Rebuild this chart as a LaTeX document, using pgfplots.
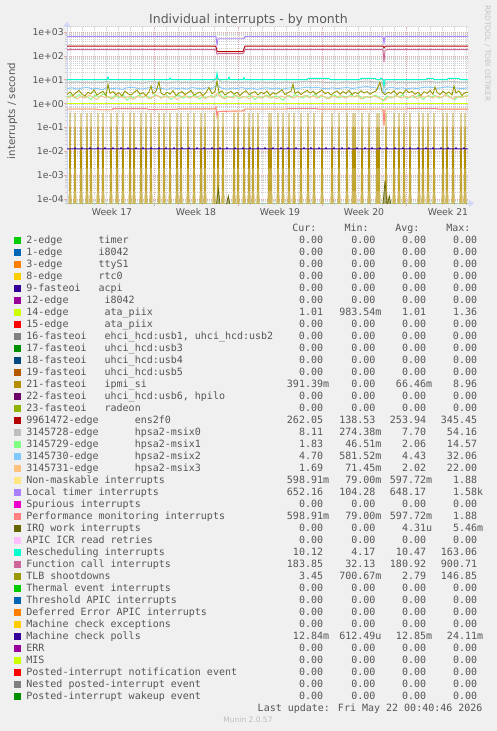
\documentclass[border=0pt]{standalone}
\usepackage{fontspec}
\usepackage{pgfplots}
\pgfplotsset{compat=1.18}
\usetikzlibrary{arrows.meta}
\setmainfont{DejaVu Sans}
\newfontfamily\monof{DejaVu Sans Mono}
\newfontfamily\sansf{DejaVu Sans}
\definecolor{cBack}{HTML}{F0F0F0}
\definecolor{cFont}{HTML}{555555}
\definecolor{cTitle}{HTML}{5A5A5A}
\definecolor{cRrd}{HTML}{C4C4C4}
\definecolor{cMunin}{HTML}{BDBDBD}
\definecolor{cAxis}{HTML}{CFD6F8}
\definecolor{cXax}{HTML}{A3CBAD}
\definecolor{cGrid}{HTML}{D0D0D0}
\definecolor{cMgrid}{HTML}{E0AEAE}
\definecolor{colA}{HTML}{00CC00}
\definecolor{colB}{HTML}{0066B3}
\definecolor{colC}{HTML}{FF8000}
\definecolor{colD}{HTML}{FFCC00}
\definecolor{colE}{HTML}{330099}
\definecolor{colF}{HTML}{990099}
\definecolor{colG}{HTML}{CCFF00}
\definecolor{colH}{HTML}{FF0000}
\definecolor{colI}{HTML}{808080}
\definecolor{colJ}{HTML}{008F00}
\definecolor{colK}{HTML}{00487D}
\definecolor{colL}{HTML}{B35A00}
\definecolor{colM}{HTML}{B38F00}
\definecolor{colN}{HTML}{6B006B}
\definecolor{colO}{HTML}{8FB300}
\definecolor{colP}{HTML}{B30000}
\definecolor{colQ}{HTML}{BEBEBE}
\definecolor{colR}{HTML}{80FF80}
\definecolor{colS}{HTML}{80C9FF}
\definecolor{colT}{HTML}{FFC080}
\definecolor{colU}{HTML}{FFE680}
\definecolor{colV}{HTML}{AA80FF}
\definecolor{colW}{HTML}{EE00CC}
\definecolor{colX}{HTML}{FF8080}
\definecolor{colY}{HTML}{666600}
\definecolor{colZ}{HTML}{FFBFFF}
\definecolor{colAA}{HTML}{00FFCC}
\definecolor{colAB}{HTML}{CC6699}
\definecolor{colAC}{HTML}{999900}
\newlength\cw
\newcommand\legfont{\monof\fontsize{10pt}{12pt}\selectfont}
\newcommand\E[9]{\rlap{#1}\makebox[296.7pt][r]{#2}\makebox[\cw][l]{#3}\makebox[46.28pt][r]{#4}\makebox[\cw][l]{#5}\makebox[44.68pt][r]{#6}\makebox[\cw][l]{#7}\makebox[44.98pt][r]{#8}\makebox[\cw][l]{#9}}
\newcommand\EZ[1]{\E{#1}{0.00}{}{0.00}{}{0.00}{}{0.00}{}}
\newcommand\lab[3]{\makebox[#2\cw][l]{#1}#3}
\newcommand\SQ[1]{\addlegendimage{legend image code/.code={\fill[#1] (0pt,-3pt) rectangle (6pt,3pt);}}}
\begin{document}
\settowidth\cw{\legfont 0}%
\begin{tikzpicture}
\useasboundingbox (0,0) rectangle (497pt,731pt);
\fill[cBack] (0,0) rectangle (497pt,731pt);
\node[anchor=base, font=\sansf\fontsize{12.5pt}{15pt}\selectfont, text=cTitle] at (248.4pt,707.7pt) {Individual interrupts - by month};
\node[rotate=90, anchor=base, font=\sansf\fontsize{10.2pt}{12pt}\selectfont, text=cFont] at (15pt,620pt) {interrupts / second};
\node[rotate=-90, anchor=base, font=\sansf\fontsize{7.5pt}{9pt}\selectfont, text=cRrd] at (485pt,677.5pt) {RRDTOOL / TOBI OETIKER};
\node[anchor=base east, font=\legfont, text=cFont, inner sep=0pt] at (482.7pt,19.8pt) {Last update: Fri May 22 00:40:46 2026};
\node[anchor=base, font=\sansf\fontsize{7.5pt}{9pt}\selectfont, text=cMunin] at (248pt,8.3pt) {Munin 2.0.57};
\begin{axis}[
  at={(67pt,527.7pt)}, anchor=south west,
  scale only axis, width=401pt, height=176.6pt,
  xmin=0, xmax=401, ymode=log, ymin=6.8e-5, ymax=1667,
  axis background/.style={fill=white},
  axis lines=left,
  x axis line style={draw=cXax, line width=1pt, -{Triangle[width=7pt,length=5pt,color=cAxis]}, shorten >=-6pt},
  y axis line style={draw=cAxis, line width=1pt, -{Triangle[width=7pt,length=5pt,color=cAxis]}, shorten >=-5pt},
  xtick={87,171,255,339}, xticklabels={,,,},
  minor xtick={3,15,...,399},
  extra x ticks={45,129,213,297,381},
  extra x tick labels={Week 17,Week 18,Week 19,Week 20,Week 21},
  extra x tick style={grid=none, major tick length=0pt, xticklabel style={anchor=base, yshift=-12.2pt}},
  xticklabel style={font=\sansf\fontsize{9.3pt}{11pt}\selectfont, text=cFont},
  ytick={1e-4,1e-3,1e-2,1e-1,1,10,100,1000},
  yticklabels={1e-04,1e-03,1e-02,1e-01,1e+00,1e+01,1e+02,1e+03},
  minor ytick={7e-5,8e-5,9e-5,2e-4,3e-4,4e-4,5e-4,6e-4,7e-4,8e-4,9e-4,2e-3,3e-3,4e-3,5e-3,6e-3,7e-3,8e-3,9e-3,0.02,0.03,0.04,0.05,0.06,0.07,0.08,0.09,0.2,0.3,0.4,0.5,0.6,0.7,0.8,0.9,2,3,4,5,6,7,8,9,20,30,40,50,60,70,80,90,200,300,400,500,600,700,800,900},
  yticklabel style={font=\sansf\fontsize{9.3pt}{11pt}\selectfont, text=cFont, anchor=east, inner sep=0pt},
  grid=both,
  major grid style={draw=cMgrid, line width=0.7pt, dash pattern=on 1pt off 1pt},
  minor grid style={draw=cGrid, line width=0.7pt, dash pattern=on 1pt off 1pt},
  tick align=outside, major tick length=3pt, minor tick length=2pt,
  major tick style={draw=cMgrid, line width=0.8pt},
  minor tick style={draw=cGrid, line width=0.8pt},
  legend cell align=left,
  legend style={at={(-0.13217,-0.1042)}, anchor=north west, draw=none, fill=none,
    inner sep=0pt, outer sep=0pt, row sep=0pt, column sep=6pt,
    nodes={inner sep=0pt, text height=9.65pt, text depth=2.35pt, anchor=west},
    font=\legfont, text=cFont},
]
\draw[cGrid, line width=0.7pt, dash pattern=on 1pt off 1pt] (rel axis cs:0,1) -- (rel axis cs:1,1) -- (rel axis cs:1,0);
% 14-edge ata_piix
\addplot[forget plot, colG, line width=0.9pt] coordinates {(0,1.01)(401,1.01)};
% 21-fasteoi ipmi_si
\addplot[forget plot, colM, line width=0.7pt, fill=colM!45!white] coordinates {
(2,6e-5)(3,0.4)(4,6e-5)(7,6e-5)(8,0.4)(9,6e-5)(13,6e-5)(14,0.4)(15,6e-5)(19,6e-5)(20,0.4)(21,6e-5)
(23,6e-5)(24,0.4)(25,6e-5)(30,6e-5)(31,0.4)(32,6e-5)(35,6e-5)(36,0.4)(37,6e-5)(43,6e-5)(44,0.4)(45,6e-5)
(49,6e-5)(50,0.4)(51,6e-5)(55,6e-5)(56,0.4)(57,6e-5)(62,6e-5)(63,0.4)(64,6e-5)(66,6e-5)(67,0.4)(68,6e-5)
(73,6e-5)(74,0.4)(75,6e-5)(78,6e-5)(79,0.4)(80,6e-5)(83,6e-5)(84,0.4)(85,6e-5)(91,6e-5)(92,0.4)(93,6e-5)
(96,6e-5)(97,0.4)(98,6e-5)(102,6e-5)(103,0.4)(104,6e-5)(109,6e-5)(110,0.4)(111,6e-5)(113,6e-5)(114,0.4)(115,6e-5)
(120,6e-5)(121,0.4)(122,6e-5)(126,6e-5)(127,0.4)(128,6e-5)(133,6e-5)(134,0.4)(135,6e-5)(137,6e-5)(138,0.4)(139,6e-5)
(146,6e-5)(147,0.4)(148,6e-5)(150,6e-5)(151,0.4)(152,6e-5)(155,6e-5)(156,0.4)(157,6e-5)(166,6e-5)(167,0.4)(168,6e-5)
(170,6e-5)(171,0.4)(172,6e-5)(176,6e-5)(177,0.4)(178,6e-5)(181,6e-5)(182,0.4)(183,6e-5)(185,6e-5)(186,0.4)(187,6e-5)
(190,6e-5)(191,0.4)(192,6e-5)(201,6e-5)(202,0.4)(203,6e-5)(204,0.4)(205,6e-5)(210,6e-5)(211,0.4)(212,6e-5)
(215,6e-5)(216,0.4)(217,6e-5)(221,6e-5)(222,0.4)(223,6e-5)(226,6e-5)(227,0.4)(228,6e-5)(233,6e-5)(234,0.4)(235,6e-5)
(240,6e-5)(241,0.4)(242,6e-5)(246,6e-5)(247,0.4)(248,6e-5)(254,6e-5)(255,0.4)(256,6e-5)(264,6e-5)(265,0.4)(266,6e-5)
(271,6e-5)(272,0.4)(273,6e-5)(279,6e-5)(280,0.4)(281,6e-5)(285,6e-5)(286,0.4)(287,6e-5)(288,0.4)(289,6e-5)
(294,6e-5)(295,0.4)(296,6e-5)(301,6e-5)(302,0.4)(303,6e-5)(309,6e-5)(310,0.4)(311,6e-5)(312,0.4)(313,6e-5)
(318,6e-5)(319,0.4)(320,6e-5)(326,6e-5)(327,0.4)(328,6e-5)(331,6e-5)(332,0.4)(333,6e-5)(336,6e-5)(337,0.4)(338,6e-5)
(342,6e-5)(343,0.4)(344,6e-5)(351,6e-5)(352,0.4)(353,6e-5)(355,6e-5)(356,0.4)(357,6e-5)(360,6e-5)(361,0.4)(362,6e-5)
(366,6e-5)(367,0.4)(368,6e-5)(375,6e-5)(376,0.4)(377,6e-5)(379,6e-5)(380,0.4)(381,6e-5)(385,6e-5)(386,0.4)(387,6e-5)
(393,6e-5)(394,0.4)(395,6e-5)(397,6e-5)(398,0.4)(399,6e-5)};
% 9961472-edge ens2f0
\addplot[forget plot, colP, line width=0.9pt] coordinates {(0,258)(148,258)(149,240)(150,165)(151,150)(176,150)(177,200)(178,258)(316,258)(317,215)(318,245)(319,258)(401,258)};
% 3145728-edge hpsa2-msix0
\addplot[forget plot, colQ, line width=0.9pt] coordinates {(0,7.8)(5,7.5)(10,8.2)(15,7.6)(20,7.9)(25,7.3)(30,8.0)(35,7.7)(40,8.6)(45,7.4)(50,7.9)(55,7.6)(60,8.1)(65,7.5)(70,7.8)(75,7.2)(80,8.0)(85,8.4)(90,7.6)(95,7.9)(100,7.3)(105,7.8)(110,8.2)(115,7.6)(120,7.9)(125,7.4)(130,8.0)(135,7.7)(140,7.5)(145,8.1)(150,12.5)(155,7.8)(160,8.3)(165,7.5)(170,7.9)(175,7.6)(180,8.2)(185,7.4)(190,7.8)(195,8.0)(200,7.5)(205,7.9)(210,7.3)(215,7.8)(220,8.1)(225,7.6)(230,7.9)(235,8.4)(240,8.8)(245,8.3)(250,8.6)(255,8.0)(260,7.6)(265,7.9)(270,7.4)(275,7.8)(280,8.2)(285,7.6)(290,8.0)(295,8.6)(300,8.9)(305,8.4)(310,8.0)(315,7.8)(317,4.5)(320,7.9)(325,8.3)(330,7.6)(335,8.0)(340,7.4)(345,7.9)(350,7.6)(355,8.2)(360,8.7)(365,8.4)(370,7.8)(375,8.1)(380,8.8)(385,8.5)(390,8.2)(395,7.9)(401,8.1)};
% 3145729-edge hpsa2-msix1
\addplot[forget plot, colR, line width=0.9pt] coordinates {(0,1.9)(4,2.2)(8,1.7)(12,2.4)(16,1.8)(20,2.0)(24,1.5)(28,2.3)(32,1.9)(36,2.6)(40,2.1)(44,1.6)(48,2.2)(52,1.8)(56,2.5)(60,1.4)(64,2.0)(68,1.7)(72,2.3)(76,1.9)(80,2.1)(84,1.6)(88,2.4)(92,2.0)(96,1.8)(100,2.2)(104,1.5)(108,2.0)(112,2.3)(116,1.7)(120,2.1)(124,1.9)(128,2.4)(132,1.6)(136,2.0)(140,1.8)(144,2.2)(148,1.9)(152,2.8)(156,1.7)(160,2.1)(164,1.8)(168,2.3)(172,1.6)(176,2.0)(180,1.9)(184,2.2)(188,1.5)(192,2.0)(196,1.8)(200,2.3)(204,1.7)(208,2.1)(212,1.9)(216,1.4)(220,2.2)(224,1.8)(228,2.4)(232,2.0)(236,1.7)(240,2.2)(244,1.9)(248,2.5)(252,1.8)(256,2.1)(260,1.6)(264,2.0)(268,2.3)(272,1.7)(276,2.1)(280,1.8)(284,2.4)(288,1.9)(292,2.2)(296,1.6)(300,2.0)(304,1.8)(308,2.3)(312,1.9)(316,1.3)(320,2.1)(324,1.7)(328,2.2)(332,1.9)(336,2.4)(340,1.6)(344,2.0)(348,1.8)(352,2.3)(356,1.5)(360,2.1)(364,1.9)(368,2.2)(372,1.7)(376,2.0)(380,2.4)(384,1.8)(388,1.5)(392,2.1)(396,1.9)(401,2.2)};
% 3145730-edge hpsa2-msix2
\addplot[forget plot, colS, line width=0.9pt] coordinates {(0,4.3)(5,4.6)(10,4.1)(15,4.5)(20,4.8)(25,4.2)(30,4.4)(35,3.9)(40,4.7)(45,4.3)(50,4.5)(55,4.0)(60,4.6)(65,4.9)(70,4.4)(75,4.1)(80,4.5)(85,4.8)(90,4.2)(95,4.4)(100,4.0)(105,4.6)(110,4.3)(115,4.5)(120,4.1)(125,4.7)(130,4.4)(135,4.2)(140,4.6)(145,4.3)(150,6.0)(155,4.4)(160,4.1)(165,4.5)(170,4.3)(175,4.7)(180,4.2)(185,4.5)(190,4.0)(195,4.4)(200,4.6)(205,4.2)(210,4.5)(215,4.1)(220,4.4)(225,4.7)(230,4.3)(235,4.6)(240,5.0)(245,4.6)(250,4.9)(255,4.4)(260,4.2)(265,4.6)(270,4.3)(275,4.5)(280,4.8)(285,4.3)(290,4.6)(295,5.0)(300,5.2)(305,4.8)(310,4.5)(315,4.4)(317,2.8)(320,4.5)(325,4.8)(330,4.3)(335,4.6)(340,4.2)(345,4.5)(350,4.3)(355,4.7)(360,5.0)(365,4.8)(370,4.4)(375,4.7)(380,5.1)(385,4.8)(390,4.5)(395,4.3)(401,4.6)};
% 3145731-edge hpsa2-msix3
\addplot[forget plot, colT, line width=0.9pt] coordinates {(0,1.9)(2,1.8)(6,2.1)(10,1.6)(14,2.0)(18,1.7)(22,2.3)(26,1.9)(30,1.5)(34,2.2)(38,1.8)(42,2.0)(46,1.6)(50,2.3)(54,1.9)(58,1.7)(62,2.1)(66,1.5)(70,2.0)(74,1.8)(78,2.2)(82,1.6)(86,1.9)(90,2.3)(94,1.7)(98,2.0)(102,1.8)(106,2.1)(110,1.5)(114,1.9)(118,2.2)(122,1.7)(126,2.0)(130,1.8)(134,2.3)(138,1.6)(142,2.0)(146,1.8)(150,2.6)(154,1.9)(158,1.6)(162,2.0)(166,1.7)(170,2.2)(174,1.8)(178,2.0)(182,1.6)(186,2.1)(190,1.9)(194,1.7)(198,2.2)(202,1.8)(206,2.0)(210,1.6)(214,2.1)(218,1.8)(222,2.3)(226,1.7)(230,2.0)(234,1.9)(238,2.2)(242,1.8)(246,2.1)(250,1.7)(254,2.3)(258,1.9)(262,1.6)(266,2.1)(270,1.8)(274,2.2)(278,1.7)(282,2.0)(286,1.9)(290,2.2)(294,1.6)(298,2.0)(302,1.8)(306,2.1)(310,1.9)(314,1.6)(318,1.4)(322,2.0)(326,1.8)(330,2.2)(334,1.7)(338,2.0)(342,1.8)(346,2.3)(350,1.6)(354,2.0)(358,1.9)(362,2.2)(366,1.7)(370,2.1)(374,1.8)(378,2.3)(382,1.9)(386,1.6)(390,2.0)(394,1.8)(398,2.1)(401,2.0)};
% Non-maskable interrupts
\addplot[forget plot, colU, line width=0.9pt] coordinates {(0,0.6)(30,0.6)(31,0.56)(45,0.56)(46,0.62)(80,0.62)(81,0.58)(110,0.58)(111,0.61)(148,0.61)(149,0.72)(150,0.3)(151,0.47)(177,0.5)(178,0.6)(220,0.6)(221,0.63)(250,0.63)(251,0.59)(316,0.6)(317,0.12)(318,0.6)(340,0.6)(341,0.63)(370,0.63)(371,0.59)(401,0.59)};
% Local timer interrupts
\addplot[forget plot, colV, line width=0.9pt] coordinates {(0,650)(149,650)(150,290)(151,520)(177,520)(178,650)(316,650)(317,340)(318,650)(401,650)};
% Performance monitoring interrupts
\addplot[forget plot, colX, line width=0.9pt] coordinates {(0,0.6)(30,0.6)(31,0.56)(45,0.56)(46,0.62)(80,0.62)(81,0.58)(110,0.58)(111,0.61)(148,0.61)(149,0.72)(150,0.3)(151,0.47)(177,0.5)(178,0.6)(220,0.6)(221,0.63)(250,0.63)(251,0.59)(316,0.6)(317,0.12)(318,0.6)(340,0.6)(341,0.63)(370,0.63)(371,0.59)(401,0.59)};
% IRQ work interrupts
\addplot[forget plot, colY, line width=0.7pt, fill=colY!55!white] coordinates {(148,6e-5)(149.5,6e-5)(151.3,2.9e-4)(153,6e-5)(159.5,6e-5)(161.3,1.4e-4)(163,6e-5)(316,6e-5)(318,6e-4)(320,6e-5)(320.5,6e-5)(322.3,1.4e-4)(324,6e-5)};
% Rescheduling interrupts
\addplot[forget plot, colAA, line width=0.9pt] coordinates {(0,10.2)(40,10.2)(41,13)(42,10.2)(102,10.2)(103,11.8)(104,10.2)(149,10.2)(150,19)(151,11)(152,10.2)(161,10.2)(162,13)(163,10.2)(176,10.2)(177,12.5)(178,10.2)(240,10.2)(241,11.4)(262,11.4)(263,10.2)(293,10.2)(294,11.5)(308,11.5)(309,10.2)(313,10.2)(314,11.8)(316,10.2)(317,5.5)(318,10.2)(359,10.2)(360,11.4)(366,11.4)(367,10.2)(380,10.2)(381,11.4)(392,11.4)(393,10.2)(401,10.2)};
% Function call interrupts
\addplot[forget plot, colAB, line width=0.9pt] coordinates {(0,182)(148,182)(149,175)(150,118)(152,125)(176,125)(177,140)(178,182)(316,182)(317,55)(318,170)(320,182)(338,182)(339,195)(340,182)(356,182)(357,193)(358,182)(401,182)};
% TLB shootdowns
\addplot[forget plot, colAC, line width=0.9pt] coordinates {(0,2.4)(3,3.1)(6,2.2)(9,2.9)(12,3.6)(15,2.5)(18,2.1)(21,3.0)(24,2.6)(27,3.8)(30,2.3)(33,2.8)(36,3.3)(39,2.2)(41,6.5)(43,2.7)(46,3.2)(49,2.4)(52,2.9)(55,2.1)(58,3.4)(61,2.6)(64,2.3)(67,3.0)(70,3.7)(73,2.5)(76,2.9)(79,2.2)(82,3.1)(84,5.5)(86,2.6)(89,3.3)(92,8.0)(94,2.8)(97,2.3)(100,3.0)(103,2.5)(106,3.5)(109,2.2)(112,2.8)(115,3.2)(118,2.4)(121,2.9)(124,3.6)(127,2.3)(130,2.7)(133,3.1)(136,2.2)(139,2.9)(142,4.8)(145,2.6)(148,3.2)(150,9.0)(152,2.9)(155,3.4)(158,2.3)(161,2.8)(164,3.3)(167,2.5)(170,3.0)(173,2.2)(176,2.9)(179,3.5)(182,2.4)(185,2.8)(188,3.2)(191,2.3)(194,3.0)(197,2.6)(200,3.4)(203,2.2)(206,2.9)(209,2.5)(212,3.1)(215,3.8)(218,2.4)(221,2.9)(224,3.3)(226,6.5)(228,2.7)(231,3.2)(234,2.4)(237,3.0)(240,3.6)(243,2.8)(246,3.3)(249,2.5)(252,3.1)(255,3.7)(258,2.6)(261,3.0)(264,2.3)(267,2.9)(270,3.4)(273,2.5)(276,3.2)(279,2.7)(282,3.6)(285,2.4)(288,3.0)(291,2.6)(294,3.5)(297,2.8)(300,3.2)(303,2.5)(306,3.0)(309,3.4)(311,5.0)(313,8.0)(315,3.1)(318,2.4)(321,3.0)(324,2.7)(327,3.5)(330,2.4)(333,3.1)(336,2.6)(339,3.8)(342,2.9)(345,3.3)(348,2.5)(351,3.0)(354,2.2)(357,3.2)(360,2.7)(363,3.6)(366,2.5)(368,5.0)(370,3.0)(373,2.4)(376,3.3)(379,2.6)(382,3.1)(385,2.3)(387,5.5)(389,2.8)(392,3.4)(395,2.2)(398,2.9)(401,3.0)};
% Machine check polls
\addplot[forget plot, colE, line width=0.9pt] coordinates {(0,0.0128)(7.3,0.0128)(8,0.0145)(8.7,0.0128)(14.3,0.0128)(15,0.0145)(15.7,0.0128)(22.3,0.0128)(23,0.0145)(23.7,0.0128)(30.3,0.0128)(31,0.0145)(31.7,0.0128)(37.3,0.0128)(38,0.0145)(38.7,0.0128)(45.3,0.0128)(46,0.0145)(46.7,0.0128)(53.3,0.0128)(54,0.0145)(54.7,0.0128)(60.3,0.0128)(61,0.0145)(61.7,0.0128)(68.3,0.0128)(69,0.0145)(69.7,0.0128)(75.3,0.0128)(76,0.0145)(76.7,0.0128)(83.3,0.0128)(84,0.0145)(84.7,0.0128)(91.3,0.0128)(92,0.0145)(92.7,0.0128)(98.3,0.0128)(99,0.0145)(99.7,0.0128)(106.3,0.0128)(107,0.0145)(107.7,0.0128)(114.3,0.0128)(115,0.0145)(115.7,0.0128)(121.3,0.0128)(122,0.0145)(122.7,0.0128)(129.3,0.0128)(130,0.0145)(130.7,0.0128)(136.3,0.0128)(137,0.0145)(137.7,0.0128)(144.3,0.0128)(145,0.0145)(145.7,0.0128)(152.3,0.0128)(153,0.0145)(153.7,0.0128)(159.3,0.0128)(160,0.0145)(160.7,0.0128)(167.3,0.0128)(168,0.0145)(168.7,0.0128)(175.3,0.0128)(176,0.0145)(176.7,0.0128)(182.3,0.0128)(183,0.0145)(183.7,0.0128)(190.3,0.0128)(191,0.0145)(191.7,0.0128)(197.3,0.0128)(198,0.0145)(198.7,0.0128)(205.3,0.0128)(206,0.0145)(206.7,0.0128)(213.3,0.0128)(214,0.0145)(214.7,0.0128)(220.3,0.0128)(221,0.0145)(221.7,0.0128)(228.3,0.0128)(229,0.0145)(229.7,0.0128)(236.3,0.0128)(237,0.0145)(237.7,0.0128)(243.3,0.0128)(244,0.0145)(244.7,0.0128)(251.3,0.0128)(252,0.0145)(252.7,0.0128)(258.3,0.0128)(259,0.0145)(259.7,0.0128)(266.3,0.0128)(267,0.0145)(267.7,0.0128)(274.3,0.0128)(275,0.0145)(275.7,0.0128)(281.3,0.0128)(282,0.0145)(282.7,0.0128)(289.3,0.0128)(290,0.0145)(290.7,0.0128)(297.3,0.0128)(298,0.0145)(298.7,0.0128)(304.3,0.0128)(305,0.0145)(305.7,0.0128)(312.3,0.0128)(313,0.0145)(313.7,0.0128)(319.3,0.0128)(320,0.0145)(320.7,0.0128)(327.3,0.0128)(328,0.0145)(328.7,0.0128)(335.3,0.0128)(336,0.0145)(336.7,0.0128)(342.3,0.0128)(343,0.0145)(343.7,0.0128)(350.3,0.0128)(351,0.0145)(351.7,0.0128)(358.3,0.0128)(359,0.0145)(359.7,0.0128)(365.3,0.0128)(366,0.0145)(366.7,0.0128)(373.3,0.0128)(374,0.0145)(374.7,0.0128)(380.3,0.0128)(381,0.0145)(381.7,0.0128)(388.3,0.0128)(389,0.0145)(389.7,0.0128)(396.3,0.0128)(397,0.0145)(397.7,0.0128)(401,0.0128)};
% legend
\addlegendimage{empty legend}
\addlegendentry{\makebox[290pt][r]{Cur:}\makebox[52.3pt][r]{Min:}\makebox[50.7pt][r]{Avg:}\makebox[51pt][r]{Max:}}
\SQ{colA}\addlegendentry{\EZ{\lab{2-edge}{12}{timer}}}
\SQ{colB}\addlegendentry{\EZ{\lab{1-edge}{12}{i8042}}}
\SQ{colC}\addlegendentry{\EZ{\lab{3-edge}{12}{ttyS1}}}
\SQ{colD}\addlegendentry{\EZ{\lab{8-edge}{12}{rtc0}}}
\SQ{colE}\addlegendentry{\EZ{\lab{9-fasteoi}{12}{acpi}}}
\SQ{colF}\addlegendentry{\EZ{\lab{12-edge}{13}{i8042}}}
\SQ{colG}\addlegendentry{\E{\lab{14-edge}{13}{ata\_piix}}{1.01}{}{983.54}{m}{1.01}{}{1.36}{}}
\SQ{colH}\addlegendentry{\EZ{\lab{15-edge}{13}{ata\_piix}}}
\SQ{colI}\addlegendentry{\EZ{\lab{16-fasteoi}{13}{ehci\_hcd:usb1, uhci\_hcd:usb2}}}
\SQ{colJ}\addlegendentry{\EZ{\lab{17-fasteoi}{13}{uhci\_hcd:usb3}}}
\SQ{colK}\addlegendentry{\EZ{\lab{18-fasteoi}{13}{uhci\_hcd:usb4}}}
\SQ{colL}\addlegendentry{\EZ{\lab{19-fasteoi}{13}{uhci\_hcd:usb5}}}
\SQ{colM}\addlegendentry{\E{\lab{21-fasteoi}{13}{ipmi\_si}}{391.39}{m}{0.00}{}{66.46}{m}{8.96}{}}
\SQ{colN}\addlegendentry{\EZ{\lab{22-fasteoi}{13}{uhci\_hcd:usb6, hpilo}}}
\SQ{colO}\addlegendentry{\EZ{\lab{23-fasteoi}{13}{radeon}}}
\SQ{colP}\addlegendentry{\E{\lab{9961472-edge}{18}{ens2f0}}{262.05}{}{138.53}{}{253.94}{}{345.45}{}}
\SQ{colQ}\addlegendentry{\E{\lab{3145728-edge}{18}{hpsa2-msix0}}{8.11}{}{274.38}{m}{7.70}{}{54.16}{}}
\SQ{colR}\addlegendentry{\E{\lab{3145729-edge}{18}{hpsa2-msix1}}{1.83}{}{46.51}{m}{2.06}{}{14.57}{}}
\SQ{colS}\addlegendentry{\E{\lab{3145730-edge}{18}{hpsa2-msix2}}{4.70}{}{581.52}{m}{4.43}{}{32.06}{}}
\SQ{colT}\addlegendentry{\E{\lab{3145731-edge}{18}{hpsa2-msix3}}{1.69}{}{71.45}{m}{2.02}{}{22.00}{}}
\SQ{colU}\addlegendentry{\E{Non-maskable interrupts}{598.91}{m}{79.00}{m}{597.72}{m}{1.88}{}}
\SQ{colV}\addlegendentry{\E{Local timer interrupts}{652.16}{}{104.28}{}{648.17}{}{1.58}{k}}
\SQ{colW}\addlegendentry{\EZ{Spurious interrupts}}
\SQ{colX}\addlegendentry{\E{Performance monitoring interrupts}{598.91}{m}{79.00}{m}{597.72}{m}{1.88}{}}
\SQ{colY}\addlegendentry{\E{IRQ work interrupts}{0.00}{}{0.00}{}{4.31}{u}{5.46}{m}}
\SQ{colZ}\addlegendentry{\EZ{APIC ICR read retries}}
\SQ{colAA}\addlegendentry{\E{Rescheduling interrupts}{10.12}{}{4.17}{}{10.47}{}{163.06}{}}
\SQ{colAB}\addlegendentry{\E{Function call interrupts}{183.85}{}{32.13}{}{180.92}{}{900.71}{}}
\SQ{colAC}\addlegendentry{\E{TLB shootdowns}{3.45}{}{700.67}{m}{2.79}{}{146.85}{}}
\SQ{colA}\addlegendentry{\EZ{Thermal event interrupts}}
\SQ{colB}\addlegendentry{\EZ{Threshold APIC interrupts}}
\SQ{colC}\addlegendentry{\EZ{Deferred Error APIC interrupts}}
\SQ{colD}\addlegendentry{\EZ{Machine check exceptions}}
\SQ{colE}\addlegendentry{\E{Machine check polls}{12.84}{m}{612.49}{u}{12.85}{m}{24.11}{m}}
\SQ{colF}\addlegendentry{\EZ{ERR}}
\SQ{colG}\addlegendentry{\EZ{MIS}}
\SQ{colH}\addlegendentry{\EZ{Posted-interrupt notification event}}
\SQ{colI}\addlegendentry{\EZ{Nested posted-interrupt event}}
\SQ{colJ}\addlegendentry{\EZ{Posted-interrupt wakeup event}}
\end{axis}
\end{tikzpicture}
\end{document}
